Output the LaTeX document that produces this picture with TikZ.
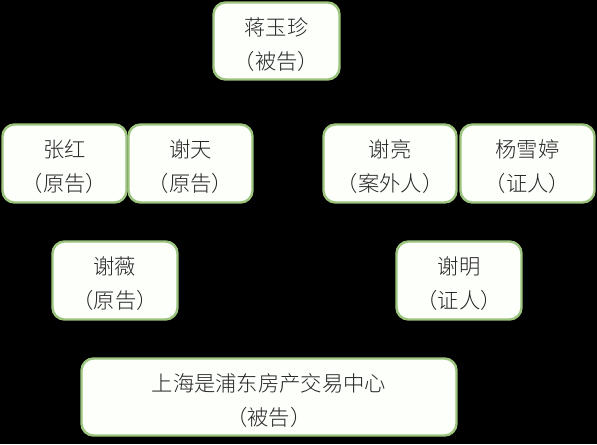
\documentclass[tikz,border=0pt]{standalone}
\usepackage{fontspec}
\newfontfamily\cjk{Noto Sans CJK SC Light}
\newcommand\twolines[2]{\raisebox{-8pt}[0pt][0pt]{\begin{tabular}{@{}c@{}}#1\\[1.5pt]#2\end{tabular}}}
\begin{document}
\begin{tikzpicture}[x=0.75pt,y=-0.75pt,
  card/.style={draw=boxgreen,line width=1.8pt,fill=boxfill,rounded corners=9pt,
    inner sep=0pt,text=textgray,
    font=\cjk\fontsize{16}{24}\selectfont},
]
\definecolor{boxgreen}{HTML}{9CC47E}
\definecolor{boxfill}{HTML}{FDFFFB}
\definecolor{textgray}{HTML}{262626}
\fill[black] (0,0) rectangle (597,444);
\useasboundingbox (0,0) rectangle (597,444);
\node[card,minimum width=126*0.75pt,minimum height=77*0.75pt] (jiang) at (276.5,41) {\twolines{蒋玉珍}{（被告）}};
\node[card,minimum width=124*0.75pt,minimum height=78*0.75pt] (zhang) at (64.5,163.5) {\twolines{张红}{（原告）}};
\node[card,minimum width=124*0.75pt,minimum height=78*0.75pt] (tian) at (190.5,163.5) {\twolines{谢天}{（原告）}};
\node[card,minimum width=133*0.75pt,minimum height=78*0.75pt] (liang) at (390,163.5) {\twolines{谢亮}{（案外人）}};
\node[card,minimum width=134*0.75pt,minimum height=78*0.75pt] (yang) at (527.5,163.5) {\twolines{杨雪婷}{（证人）}};
\node[card,minimum width=125*0.75pt,minimum height=78*0.75pt] (wei) at (115,280.5) {\twolines{谢薇}{（原告）}};
\node[card,minimum width=125*0.75pt,minimum height=78*0.75pt] (ming) at (459,280.5) {\twolines{谢明}{（证人）}};
\node[card,minimum width=375*0.75pt,minimum height=77*0.75pt] (center) at (269,397) {\twolines{上海是浦东房产交易中心}{（被告）}};
\end{tikzpicture}
\end{document}
